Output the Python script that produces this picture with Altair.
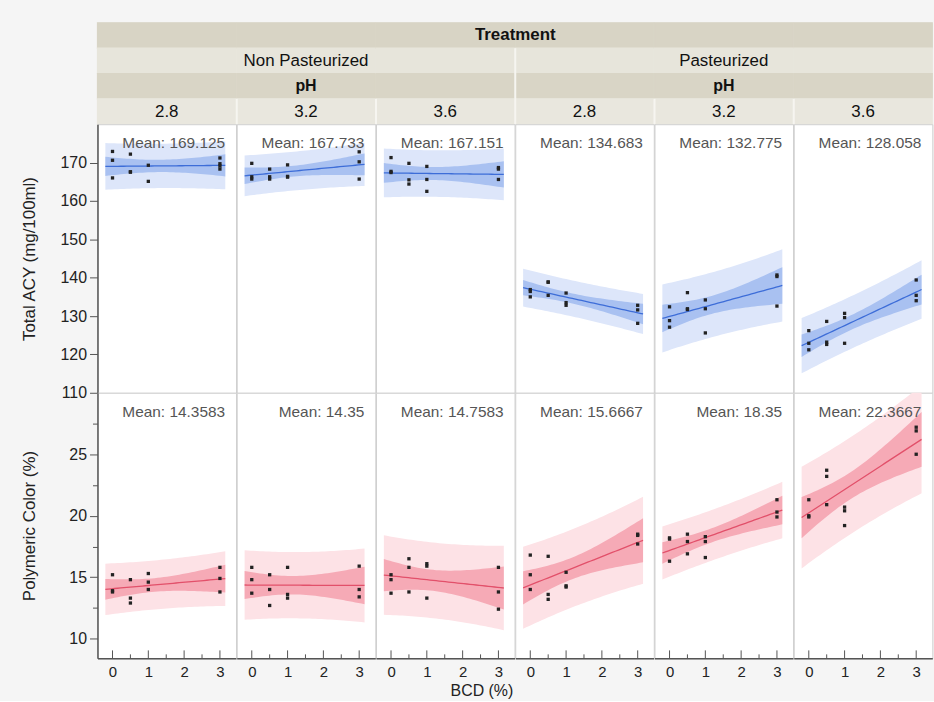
import altair as alt
import numpy as np
import pandas as pd

FONT = "Liberation Sans"

treatments = ["Non Pasteurized", "Pasteurized"]
ph_levels = ["2.8", "3.2", "3.6"]

# BCD (%) level of each observation, in the order of the value lists below
bcd_std = [0, 0, 0, 0.5, 0.5, 0.5, 1, 1, 1, 3, 3, 3]
bcd_np28_acy = [0, 0, 0, 0.5, 0.5, 0.5, 1, 1, 3, 3, 3, 3]

# Total ACY (mg/100ml)
acy_np_28 = [172.9, 170.6, 166.0, 172.2, 167.6, 167.5, 169.3, 165.1, 171.2, 169.7, 169.1, 168.3]
acy_np_32 = [169.8, 166.3, 165.7, 168.3, 166.3, 165.7, 169.4, 166.4, 166.2, 172.8, 170.2, 165.7]
acy_np_36 = [171.3, 167.4, 167.71, 169.8, 165.5, 164.4, 169.0, 165.6, 162.5, 168.7, 168.3, 165.6]
acy_p_28 = [136.9, 136.4, 135.0, 138.9, 138.8, 135.4, 136.0, 133.5, 132.8, 132.8, 131.6, 128.1]
acy_p_32 = [132.4, 128.8, 127.1, 136.1, 131.9, 131.7, 134.2, 131.9, 125.6, 140.7, 140.3, 132.6]
acy_p_36 = [126.2, 122.9, 121.2, 128.6, 123.2, 122.6, 130.7, 129.6, 122.9, 139.4, 135.4, 134.0]

# Polymeric Color (%)
pc_np_28 = [15.2, 13.9, 13.8, 14.8, 13.3, 12.9, 15.3, 14.6, 14.0, 15.8, 14.9, 13.8]
pc_np_32 = [15.8, 14.8, 13.7, 15.2, 14.0, 12.7, 15.8, 13.6, 13.3, 15.9, 14.0, 13.4]
pc_np_36 = [15.2, 14.8, 13.7, 16.5, 15.8, 13.8, 16.1, 15.9, 13.3, 15.8, 13.8, 12.4]
pc_p_28 = [16.8, 15.2, 14.0, 16.7, 13.6, 13.2, 15.4, 14.3, 14.2, 18.5, 18.4, 17.7]
pc_p_32 = [18.2, 18.1, 16.3, 18.5, 17.9, 16.9, 18.3, 17.9, 16.6, 21.3, 20.3, 19.9]
pc_p_36 = [21.3, 20.0, 19.9, 23.7, 23.2, 20.9, 20.7, 20.4, 19.2, 27.2, 26.9, 25.0]

bcd_major = [0, 1, 2, 3]
bcd_minor = [0.5, 1.5, 2.5]
acy_ticks = [110, 120, 130, 140, 150, 160, 170]
pc_ticks = [10, 12.5, 15, 17.5, 20, 22.5, 25, 27.5]

acy_series = [(bcd_np28_acy, acy_np_28), (bcd_std, acy_np_32), (bcd_std, acy_np_36),
              (bcd_std, acy_p_28), (bcd_std, acy_p_32), (bcd_std, acy_p_36)]
pc_series = [(bcd_std, pc_np_28), (bcd_std, pc_np_32), (bcd_std, pc_np_36),
             (bcd_std, pc_p_28), (bcd_std, pc_p_32), (bcd_std, pc_p_36)]

W = 139.3
H_HEAD = 102
X_DOMAIN = [-0.42, 3.45]
FIT_RANGE = (-0.2, 3.15)
T_975 = {10: 2.228}  # two-sided 95% Student t quantiles by degrees of freedom

measures = [
    dict(title="Total ACY (mg/100ml)", domain=[110, 180], ticks=acy_ticks, series=acy_series,
         line="#3d6dd8", inner="#a9c1f1", outer="#dde6fa", height=270),
    dict(title="Polymeric Color (%)", domain=[8.4, 30], ticks=pc_ticks, series=pc_series,
         line="#e2506a", inner="#f6aab6", outer="#fde2e6", height=267),
]


def fit_bands(x, y):
    """Least-squares line with confidence-of-fit and prediction bands."""
    x = np.asarray(x, float)
    y = np.asarray(y, float)
    n = len(x)
    xbar = x.mean()
    sxx = ((x - xbar) ** 2).sum()
    slope = ((x - xbar) * (y - y.mean())).sum() / sxx
    icpt = y.mean() - slope * xbar
    s = np.sqrt(((y - icpt - slope * x) ** 2).sum() / (n - 2))
    t = T_975[n - 2]
    grid = np.linspace(FIT_RANGE[0], FIT_RANGE[1], 40)
    fit = icpt + slope * grid
    lev = 1.0 / n + (grid - xbar) ** 2 / sxx
    half_fit = t * s * np.sqrt(lev)
    half_pred = t * s * np.sqrt(1.0 + lev)
    return pd.DataFrame({
        "bcd": grid, "fit": fit,
        "fit_lo": fit - half_fit, "fit_hi": fit + half_fit,
        "pred_lo": fit - half_pred, "pred_hi": fit + half_pred,
    })


def panel(row, col):
    m = measures[row]
    h = m["height"]
    bcd, vals = m["series"][col]
    pts = pd.DataFrame({"bcd": bcd, "value": vals})
    bands = fit_bands(bcd, vals)

    xs = alt.Scale(domain=X_DOMAIN, nice=False, zero=False)
    ys = alt.Scale(domain=m["domain"], nice=False, zero=False)

    if row == 1:
        if col == 2:
            x_axis = alt.Axis(values=bcd_major, ticks=False, tickSize=0, labelFontSize=15,
                              labelColor="#222", labelPadding=6, domainColor="#555",
                              domainWidth=1.5, grid=False, title="BCD (%)", titleX=106,
                              titleFontSize=16, titleFontWeight="normal", titleColor="#222",
                              titlePadding=3)
        else:
            x_axis = alt.Axis(values=bcd_major, ticks=False, tickSize=0, labelFontSize=15,
                              labelColor="#222", labelPadding=6, domainColor="#555",
                              domainWidth=1.5, grid=False, title=None)
    else:
        x_axis = None

    if col == 0:
        y_axis = alt.Axis(
            values=m["ticks"], title=m["title"],
            labelExpr="datum.value % 5 == 0 ? format(datum.value, 'd') : ''",
            tickSize={"condition": {"test": "datum.value % 5 != 0", "value": 5}, "value": 8},
            labelOverlap=False, labelFontSize=16, labelColor="#222", labelPadding=3,
            titleFontSize=17, titleFontWeight="normal", titleColor="#222", titlePadding=21,
            minExtent=38, maxExtent=38, domainColor="#555", domainWidth=1.5,
            tickColor="#555", tickWidth=1, grid=False)
    else:
        y_axis = None

    def X(field):
        return alt.X(f"{field}:Q", scale=xs, axis=x_axis)

    def Y(field):
        return alt.Y(f"{field}:Q", scale=ys, axis=y_axis)

    band_base = alt.Chart(bands)
    outer = band_base.mark_area(color=m["outer"], clip=True).encode(
        x=X("bcd"), y=Y("pred_lo"), y2="pred_hi:Q")
    inner = band_base.mark_area(color=m["inner"], clip=True).encode(
        x=X("bcd"), y=Y("fit_lo"), y2="fit_hi:Q")
    line = band_base.mark_line(color=m["line"], strokeWidth=1.3, clip=True).encode(
        x=X("bcd"), y=Y("fit"))
    dots = alt.Chart(pts).mark_square(size=11, color="#222", opacity=1).encode(
        x=X("bcd"), y=Y("value"))
    mean_txt = alt.Chart(pts).transform_aggregate(
        m="mean(value)"
    ).transform_calculate(
        label="'Mean: ' + format(datum.m, '.6~g')"
    ).mark_text(align="right", baseline="middle", fontSize=15.5, color="#555").encode(
        x=alt.value(W - 11), y=alt.value(19), text="label:N")

    layers = [outer, inner, line, dots, mean_txt]
    if row == 1:
        major = alt.Chart(pd.DataFrame({"bcd": bcd_major})).mark_rule(
            color="#555", strokeWidth=1).encode(x=X("bcd"), y=alt.value(h), y2=alt.value(h - 8))
        minor = alt.Chart(pd.DataFrame({"bcd": bcd_minor})).mark_rule(
            color="#555", strokeWidth=1).encode(x=X("bcd"), y=alt.value(h), y2=alt.value(h - 4))
        layers += [major, minor]
    return alt.layer(*layers).properties(width=W, height=h)


BAND_COLORS = ["#d8d4c5", "#e7e5db", "#d9d5c6", "#e9e7de"]


def header_cell(col):
    group, within = divmod(col, 3)
    ys = alt.Scale(domain=[0, 1, 2, 3], paddingInner=0, paddingOuter=0)
    band_color = alt.Color("row:O", scale=alt.Scale(domain=[0, 1, 2, 3], range=BAND_COLORS),
                           legend=None)

    def Y():
        return alt.Y("row:O", scale=ys, axis=None)

    # the same-coloured outline closes the hairline seams between neighbouring cells
    rows = alt.Chart(pd.DataFrame({"row": [0, 1, 2, 3]})).mark_rect(strokeWidth=1.2).encode(
        y=Y(), color=band_color, stroke=band_color)
    layers = [rows]

    ph_txt = alt.Chart(pd.DataFrame({"row": [3], "label": [ph_levels[within]]})).mark_text(
        fontSize=17, color="#111", baseline="middle").encode(
        y=Y(), x=alt.value(W / 2), text="label:N")
    layers.append(ph_txt)

    if within == 1:
        grp = alt.Chart(pd.DataFrame({"row": [1], "label": [treatments[group]]})).mark_text(
            fontSize=17, color="#111", baseline="middle").encode(
            y=Y(), x=alt.value(W / 2), text="label:N")
        ph_head = alt.Chart(pd.DataFrame({"row": [2], "label": ["pH"]})).mark_text(
            fontSize=16, fontWeight="bold", color="#111", baseline="middle").encode(
            y=Y(), x=alt.value(W / 2), text="label:N")
        layers += [grp, ph_head]

    if col == 3:
        treat = alt.Chart(pd.DataFrame({"row": [0], "label": ["Treatment"]})).mark_text(
            fontSize=17, fontWeight="bold", color="#111", baseline="middle").encode(
            y=Y(), x=alt.value(0), text="label:N")
        layers.append(treat)

    if within != 0:
        div = alt.Chart(pd.DataFrame({"row": [3]})).mark_rule(color="#f6f5f0", strokeWidth=2).encode(
            x=alt.value(0), y=alt.value(H_HEAD * 3 / 4), y2=alt.value(H_HEAD))
        layers.append(div)
    elif col == 3:
        div = alt.Chart(pd.DataFrame({"row": [1]})).mark_rule(color="#f6f5f0", strokeWidth=2).encode(
            x=alt.value(0), y=alt.value(H_HEAD / 4), y2=alt.value(H_HEAD))
        layers.append(div)

    return alt.layer(*layers).properties(
        width=W, height=H_HEAD, view=alt.ViewBackground(stroke="transparent"))


cells = ([header_cell(c) for c in range(6)]
         + [panel(0, c) for c in range(6)]
         + [panel(1, c) for c in range(6)])

chart = alt.concat(*cells, columns=6, spacing=0, bounds="flush").properties(
    padding={"left": 20, "top": 19, "right": 0, "bottom": 0},
    background="#f5f5f5",
).configure(font=FONT).configure_view(fill="white", stroke="#d0d0d0", strokeWidth=1)

chart.save("out.html", embed_options={"renderer": "svg", "actions": False})
